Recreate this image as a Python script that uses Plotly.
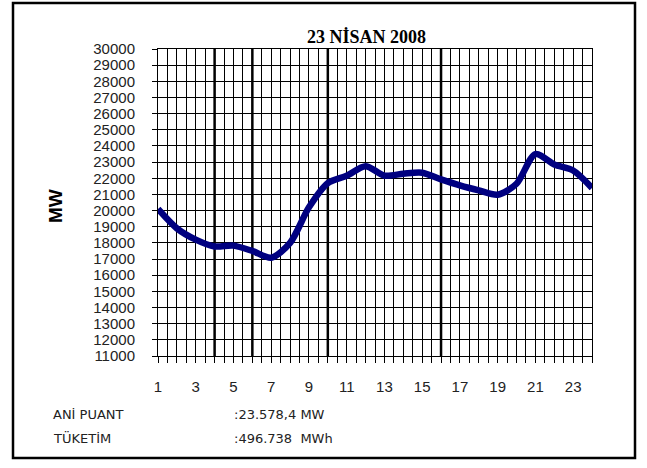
import plotly.graph_objects as go

hours = list(range(1, 25))
load_mw = [20100, 18900, 18200, 17780, 17830, 17500, 17080, 18000,
           20200, 21700, 22150, 22750, 22160, 22280, 22340, 21930,
           21560, 21250, 20980, 21660, 23500, 22850, 22480, 21400]
x_ticks = list(range(1, 25, 2))
y_ticks = list(range(11000, 30001, 1000))
thick_hours = [4, 6, 10, 16]

title_text = "23 NİSAN 2008"
info_labels = ["ANİ PUANT", "TÜKETİM"]
info_values = [":23.578,4 MW", ":496.738  MWh"]

W, H = 647, 468
L, R, T, B = 158, 55, 49, 112
pw, ph = W - L - R, H - T - B


def px_x(p):
    return (p - L) / pw


def px_y(p):
    return (H - B - p) / ph


fig = go.Figure()
fig.add_trace(go.Scatter(x=hours, y=load_mw, mode="lines",
                         line=dict(color="#000080", width=6.5, shape="spline", smoothing=0.8),
                         hoverinfo="x+y"))

for h in thick_hours:
    fig.add_shape(type="line", xref="x", yref="paper", x0=h, x1=h, y0=0, y1=1,
                  line=dict(color="black", width=2.5), layer="below")

# outer frame
fig.add_shape(type="rect", xref="paper", yref="paper",
              x0=px_x(13), x1=px_x(635), y0=px_y(458), y1=px_y(3),
              line=dict(color="black", width=2.5))

tick_font = dict(family="Liberation Sans, Arial", size=15, color="#222")

fig.update_xaxes(range=[1, 24], tickvals=x_ticks, ticktext=[str(v) for v in x_ticks],
                 showgrid=True, gridcolor="black", gridwidth=1,
                 ticks="outside", ticklen=6, tickcolor="black",
                 ticklabelstandoff=11, tickfont=tick_font,
                 minor=dict(dtick=0.5, tick0=1, showgrid=True, gridcolor="black",
                            gridwidth=1, ticks="outside", ticklen=6, tickcolor="black"),
                 showline=True, linecolor="black", linewidth=1, mirror=True,
                 zeroline=False, fixedrange=True)
fig.update_yaxes(range=[11000, 30000], tickvals=y_ticks, ticktext=[str(v) for v in y_ticks],
                 showgrid=True, gridcolor="black", gridwidth=1,
                 ticks="outside", ticklen=5, tickcolor="black",
                 ticklabelstandoff=14, tickfont=tick_font,
                 showline=True, linecolor="black", linewidth=1, mirror=True,
                 zeroline=False, fixedrange=True)

annotations = [
    dict(text=title_text, x=px_x(366), y=px_y(37), xref="paper", yref="paper",
         showarrow=False, xanchor="center", yanchor="middle",
         font=dict(family="Liberation Serif, Times New Roman", size=18, color="black", weight="bold")),
    dict(text="<b>MW</b>", x=px_x(55), y=px_y(206), xref="paper", yref="paper",
         showarrow=False, textangle=-90, xanchor="center", yanchor="middle",
         font=dict(family="Liberation Sans, Arial", size=19, color="black")),
]
for i, (lab, val) in enumerate(zip(info_labels, info_values)):
    yy = px_y(414 + 24 * i)
    annotations.append(dict(text=lab, x=px_x(51), y=yy, xref="paper", yref="paper",
                            showarrow=False, xanchor="left", yanchor="middle",
                            font=dict(family="DejaVu Sans", size=13, color="#222")))
    annotations.append(dict(text=val, x=px_x(232), y=yy, xref="paper", yref="paper",
                            showarrow=False, xanchor="left", yanchor="middle",
                            font=dict(family="DejaVu Sans", size=13, color="#222")))

fig.update_layout(width=W, height=H, margin=dict(l=L, r=R, t=T, b=B),
                  paper_bgcolor="white", plot_bgcolor="white",
                  showlegend=False, annotations=annotations)

fig.write_html("out.html", config={"displayModeBar": False},
               post_script="document.body.style.margin='0';")
